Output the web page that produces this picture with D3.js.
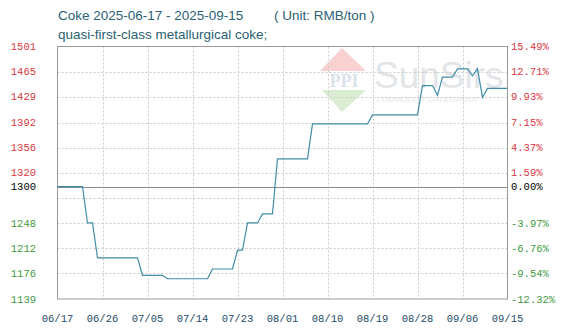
<!DOCTYPE html>
<html>
<head>
<meta charset="utf-8">
<script src="https://cdn.jsdelivr.net/npm/d3@7"></script>
<style>
  html, body { margin: 0; padding: 0; background: #fff; }
  svg { display: block; }
  .title { font-family: "Liberation Sans", Arial, sans-serif; font-size: 13.5px; fill: #2a5f74; }
  .tick-label { font-family: "Liberation Mono", monospace; font-size: 10.5px; }
</style>
</head>
<body>
<div id="chart"></div>
<script>
// Price vertices (daily points where the line changes)
const dates = ["2025-06-17", "2025-06-22", "2025-06-23", "2025-06-24", "2025-06-25", "2025-07-03",
  "2025-07-04", "2025-07-08", "2025-07-09", "2025-07-17", "2025-07-18", "2025-07-22", "2025-07-23",
  "2025-07-24", "2025-07-25", "2025-07-27", "2025-07-28", "2025-07-30", "2025-07-31", "2025-08-06",
  "2025-08-07", "2025-08-18", "2025-08-19", "2025-08-28", "2025-08-29", "2025-08-31", "2025-09-01",
  "2025-09-02", "2025-09-04", "2025-09-05", "2025-09-07", "2025-09-08", "2025-09-09", "2025-09-10",
  "2025-09-11", "2025-09-15"];
const prices = [1300, 1300, 1248, 1248, 1198, 1198,
  1173, 1173, 1168, 1168, 1182, 1182, 1209,
  1209, 1248, 1248, 1261, 1261, 1340, 1340,
  1390, 1390, 1403, 1403, 1445, 1445, 1431,
  1457, 1457, 1469, 1469, 1459, 1469, 1428,
  1441, 1441];

// Axis labels
const yTickValues = [1501, 1465, 1429, 1392, 1356, 1320, 1300, 1248, 1212, 1176, 1139];
const pctLabels = ["15.49%", "12.71%", "9.93%", "7.15%", "4.37%", "1.59%", "0.00%",
  "-3.97%", "-6.76%", "-9.54%", "-12.32%"];
const gridValues = [1465, 1429, 1392, 1356, 1320, 1284, 1248, 1212, 1176];
const xTickDates = ["2025-06-17", "2025-06-26", "2025-07-05", "2025-07-14", "2025-07-23",
  "2025-08-01", "2025-08-10", "2025-08-19", "2025-08-28", "2025-09-06", "2025-09-15"];
const basePrice = 1300;

const W = 567, H = 334;
const plot = { left: 57.5, right: 507.5, top: 46.5, bottom: 299 };

const parse = d3.utcParse("%Y-%m-%d");
const fmt = d3.utcFormat("%m/%d");

const x = d3.scaleUtc()
  .domain([parse(xTickDates[0]), parse(xTickDates[xTickDates.length - 1])])
  .range([plot.left, plot.right]);
const y = d3.scaleLinear()
  .domain([1139, 1501])
  .range([plot.bottom, plot.top]);

const svg = d3.select("#chart").append("svg")
  .attr("width", W)
  .attr("height", H);

// titles
svg.append("text").attr("class", "title")
  .attr("x", 58).attr("y", 20)
  .text("Coke 2025-06-17 - 2025-09-15");
svg.append("text").attr("class", "title")
  .attr("x", 274).attr("y", 20)
  .text("( Unit: RMB/ton )");
svg.append("text").attr("class", "title")
  .attr("x", 58).attr("y", 39)
  .text("quasi-first-class metallurgical coke;");

// watermark
const wm = svg.append("g").attr("opacity", 0.45);
wm.append("path")
  .attr("d", "M342,48 L366,71 L320,71 Z")
  .attr("fill", "#f29a9a");
wm.append("text")
  .attr("x", 344).attr("y", 87)
  .attr("text-anchor", "middle")
  .attr("font-family", "Liberation Serif, serif")
  .attr("font-weight", "bold")
  .attr("font-size", 18)
  .attr("fill", "#b0c0d8")
  .text("PPI");
wm.append("path")
  .attr("d", "M322,90 L366,90 L342,112 Z")
  .attr("fill", "#b0d8a0");
wm.append("text")
  .attr("x", 374).attr("y", 88)
  .attr("font-family", "Liberation Sans, Arial, sans-serif")
  .attr("font-size", 37)
  .attr("fill", "#c0c8d0")
  .text("SunSirs");
wm.append("text")
  .attr("x", 376).attr("y", 102)
  .attr("font-family", "Liberation Sans, Arial, sans-serif")
  .attr("font-size", 8)
  .attr("fill", "#c0c8d0")
  .text("COMMODITY DATA GROUP");

// grid
svg.append("g")
  .selectAll("line")
  .data(gridValues)
  .enter().append("line")
    .attr("x1", plot.left).attr("x2", plot.right)
    .attr("y1", d => Math.round(y(d)) + 0.5)
    .attr("y2", d => Math.round(y(d)) + 0.5)
    .attr("stroke", "#cccccc")
    .attr("stroke-dasharray", "2,2");

svg.append("g")
  .selectAll("line")
  .data(xTickDates.slice(1, -1))
  .enter().append("line")
    .attr("x1", d => Math.round(x(parse(d))) + 0.5)
    .attr("x2", d => Math.round(x(parse(d))) + 0.5)
    .attr("y1", plot.top).attr("y2", plot.bottom)
    .attr("stroke", "#cccccc")
    .attr("stroke-dasharray", "2,2");

// base line at 1300
svg.append("line")
  .attr("x1", plot.left).attr("x2", plot.right)
  .attr("y1", Math.round(y(basePrice)) + 0.5)
  .attr("y2", Math.round(y(basePrice)) + 0.5)
  .attr("stroke", "#888888");

// frame
svg.append("rect")
  .attr("x", plot.left).attr("y", plot.top)
  .attr("width", plot.right - plot.left)
  .attr("height", plot.bottom - plot.top)
  .attr("fill", "none")
  .attr("stroke", "#999999");

// price line
const series = dates.map((d, i) => ({ date: parse(d), value: prices[i] }));
const line = d3.line()
  .x(d => x(d.date))
  .y(d => y(d.value));
svg.append("path")
  .datum(series)
  .attr("d", line)
  .attr("fill", "none")
  .attr("stroke", "#3f8da6")
  .attr("stroke-width", 1.2);

// y labels
const labelColor = v => v > basePrice ? "#d9363e" : (v < basePrice ? "#3f9a3f" : "#000000");

svg.append("g")
  .selectAll("text")
  .data(yTickValues)
  .enter().append("text")
    .attr("class", "tick-label")
    .attr("x", 36)
    .attr("y", d => y(d))
    .attr("dy", "0.35em")
    .attr("text-anchor", "end")
    .attr("fill", labelColor)
    .text(d => d);

svg.append("g")
  .selectAll("text")
  .data(yTickValues)
  .enter().append("text")
    .attr("class", "tick-label")
    .attr("x", 511)
    .attr("y", d => y(d))
    .attr("dy", "0.35em")
    .attr("fill", labelColor)
    .text((d, i) => pctLabels[i]);

// x labels
svg.append("g")
  .selectAll("text")
  .data(xTickDates)
  .enter().append("text")
    .attr("class", "tick-label")
    .attr("x", d => x(parse(d)))
    .attr("y", 318)
    .attr("dy", "0.35em")
    .attr("text-anchor", "middle")
    .attr("fill", "#1d4a66")
    .text(d => fmt(parse(d)));
</script>
</body>
</html>
